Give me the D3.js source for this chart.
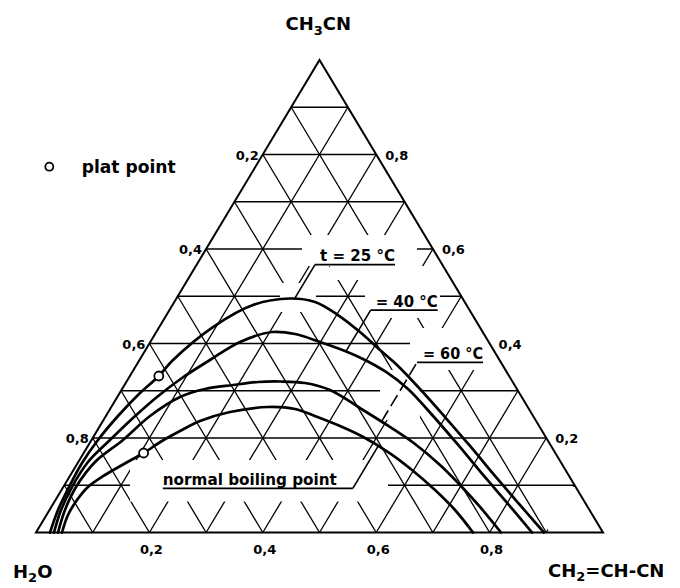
<!DOCTYPE html>
<html>
<head>
<meta charset="utf-8">
<script src="https://cdn.jsdelivr.net/npm/d3@7"></script>
<style>
  html, body { margin: 0; padding: 0; background: #fff; }
  svg { display: block; }
  text { font-family: "DejaVu Sans", sans-serif; font-weight: bold; fill: #000; }
</style>
</head>
<body>
<svg id="chart" width="680" height="588"></svg>
<script>
// Ternary composition: a = CH3CN mole fraction (top corner),
// b = CH2=CH-CN mole fraction (right corner), H2O = 1 - a - b (left corner).

// grid levels and tick labels
const gridLevels = [0.1, 0.2, 0.3, 0.4, 0.5, 0.6, 0.7, 0.8, 0.9];
const tickValues = [0.2, 0.4, 0.6, 0.8];
const tickLabels = ["0,2", "0,4", "0,6", "0,8"];

// binodal curves, points as [b, a]
const curve25 = [[0.0247,0],[0.0150,0.0476],[0.0100,0.0963],[0.0076,0.1471],[0.0114,0.1958],
  [0.0213,0.2466],[0.0344,0.2910],[0.0510,0.3312],[0.0591,0.3651],[0.0947,0.4349],[0.1419,0.4815],
  [0.2004,0.4952],[0.2482,0.4878],[0.3025,0.4603],[0.3593,0.4243],[0.4136,0.3862],[0.4594,0.3545],
  [0.5254,0.3037],[0.5991,0.2444],[0.6739,0.1831],[0.7497,0.1196],[0.8245,0.0582],[0.8959,0]];
const curve40 = [[0.0317,0],[0.0203,0.0476],[0.0153,0.0963],[0.0171,0.1492],[0.0326,0.1958],
  [0.0499,0.2423],[0.0700,0.2868],[0.0940,0.3270],[0.1243,0.3651],[0.1582,0.4032],[0.2041,0.4243],
  [0.2468,0.4201],[0.2993,0.4032],[0.3529,0.3841],[0.3977,0.3651],[0.4475,0.3397],[0.5043,0.3037],
  [0.5797,0.2444],[0.6545,0.1831],[0.7303,0.1196],[0.8051,0.0582],[0.8748,0]];
const curve60 = [[0.0388,0],[0.0273,0.0476],[0.0224,0.0963],[0.0295,0.1492],[0.0555,0.1958],
  [0.0778,0.2466],[0.1106,0.2868],[0.1463,0.3037],[0.1913,0.3122],[0.2323,0.3185],[0.2705,0.3196],
  [0.3162,0.3164],[0.3677,0.3016],[0.4471,0.2593],[0.5127,0.2233],[0.5748,0.1873],[0.6411,0.1429],
  [0.6976,0.1005],[0.7561,0.0540],[0.8201,0]];
const curveBoil = [[0.0459,0],[0.0379,0.0370],[0.0379,0.0688],[0.0435,0.0963],[0.0608,0.1217],
  [0.0827,0.1450],[0.1056,0.1683],[0.1254,0.1937],[0.1466,0.2148],[0.1712,0.2360],[0.2147,0.2550],
  [0.2764,0.2656],[0.3261,0.2614],[0.3726,0.2451],[0.4235,0.2254],[0.4762,0.2021],[0.5405,0.1676],
  [0.5970,0.1323],[0.6588,0.0899],[0.7152,0.0476],[0.7707,0]];
const curves = [curve25, curve40, curve60, curveBoil];

// plat points [b, a]
const platPoints = [[0.0510, 0.3312], [0.1056, 0.1683]];

// curve captions: the leader leaves the curve at constant b and stops at level a1
const captions = [
  { text: "t = 25 °C", curve: 0, b: 0.2086, a1: 0.567, side: 1, line: 80, width: 75, dashed: false },
  { text: "= 40 °C", curve: 1, b: 0.355, a1: 0.4705, side: 1, line: 67, width: 62, dashed: false },
  { text: "= 60 °C", curve: 2, b: 0.492, a1: 0.36, side: 1, line: 66, width: 60, dashed: true },
  { text: "normal boiling point", curve: 3, b: 0.512, a1: 0.0935, side: -1, line: 190, width: 174, dashed: false }
];

// blank areas in the grid around the captions, as [u0, u1, a0, a1] with u = b + a/2
const gridGaps = [
  [0.4691, 0.6720, 0.5640, 0.6296],
  [0.5185, 0.7390, 0.5344, 0.5640],
  [0.4303, 0.4938, 0.4667, 0.5280],
  [0.5802, 0.7125, 0.4540, 0.5344],
  [0.6596, 0.8042, 0.3439, 0.4328],
  [0.6067, 0.6772, 0.2381, 0.3439],
  [0.1658, 0.6208, 0.0656, 0.1534],
  [0.9030, 0.9524, 0.0053, 0.0963]
];

const W = 680, H = 588;
const svg = d3.select("#chart");
svg.append("rect").attr("width", W).attr("height", H).attr("fill", "#fff");

const x = d3.scaleLinear().domain([0, 1]).range([36, 603]);
const y = d3.scaleLinear().domain([0, 1]).range([532.5, 60]);
const P = (b, a) => [x(b + a / 2), y(a)];

// level a at which a curve reaches a given b (first crossing along the curve)
function curveLevelAt(pts, b) {
  for (let i = 1; i < pts.length; i++) {
    const [b0, a0] = pts[i - 1], [b1, a1] = pts[i];
    if ((b0 - b) * (b1 - b) <= 0 && b0 !== b1) {
      return a0 + (b - b0) / (b1 - b0) * (a1 - a0);
    }
  }
  return 0;
}

// mask for grid gaps
const defs = svg.append("defs");
const mask = defs.append("mask").attr("id", "gridMask")
  .attr("maskUnits", "userSpaceOnUse").attr("x", 0).attr("y", 0).attr("width", W).attr("height", H);
mask.append("rect").attr("width", W).attr("height", H).attr("fill", "#fff");
mask.selectAll("rect.gap").data(gridGaps).join("rect").attr("class", "gap")
  .attr("x", d => x(d[0])).attr("y", d => y(d[3]))
  .attr("width", d => x(d[1]) - x(d[0])).attr("height", d => y(d[2]) - y(d[3]))
  .attr("fill", "#000");

// grid lines
const segs = [];
gridLevels.forEach(k => {
  segs.push([P(0, k), P(1 - k, k)]);      // CH3CN constant
  segs.push([P(k, 0), P(k, 1 - k)]);      // CH2=CH-CN constant
  segs.push([P(1 - k, 0), P(0, 1 - k)]);  // H2O constant
});
svg.append("g").attr("mask", "url(#gridMask)")
  .selectAll("line").data(segs).join("line")
  .attr("x1", d => d[0][0]).attr("y1", d => d[0][1])
  .attr("x2", d => d[1][0]).attr("y2", d => d[1][1])
  .attr("stroke", "#000").attr("stroke-width", 1.3);

// triangle frame
svg.append("path")
  .attr("d", d3.line()([P(0, 0), P(1, 0), P(0, 1)]) + "Z")
  .attr("fill", "none").attr("stroke", "#000").attr("stroke-width", 2).attr("stroke-linejoin", "miter");

// binodal curves
const curveLine = d3.line().curve(d3.curveCatmullRom.alpha(0.5));
svg.append("g").selectAll("path").data(curves).join("path")
  .attr("d", d => curveLine(d.map(p => P(p[0], p[1]))))
  .attr("fill", "none").attr("stroke", "#000").attr("stroke-width", 2.7).attr("stroke-linecap", "round");

// plat points
svg.append("g").selectAll("circle").data(platPoints).join("circle")
  .attr("cx", d => P(d[0], d[1])[0]).attr("cy", d => P(d[0], d[1])[1]).attr("r", 4.5)
  .attr("fill", "#fff").attr("stroke", "#000").attr("stroke-width", 1.8);

// captions with leader lines
const cap = svg.append("g");
captions.forEach(c => {
  const a0 = curveLevelAt(curves[c.curve], c.b);
  const p0 = P(c.b, a0), p1 = P(c.b, c.a1);
  const p2 = [p1[0] + c.side * c.line, p1[1]];
  cap.append("path").attr("d", d3.line()([p0, p1]))
    .attr("fill", "none").attr("stroke", "#000").attr("stroke-width", 1.6)
    .attr("stroke-dasharray", c.dashed ? "13,5" : null);
  cap.append("path").attr("d", d3.line()([p1, p2]))
    .attr("fill", "none").attr("stroke", "#000").attr("stroke-width", 1.8);
  const tx = c.side > 0 ? p2[0] - c.width : p2[0];
  cap.append("text").attr("x", tx).attr("y", p1[1] - 3.5)
    .attr("font-size", 16).attr("textLength", c.width).attr("lengthAdjust", "spacingAndGlyphs")
    .text(c.text);
});

// tick labels
const ticks = svg.append("g").attr("font-size", 13);
tickValues.forEach((v, i) => {
  const pb = P(v, 0);
  ticks.append("text").attr("x", pb[0] + 2).attr("y", pb[1] + 21).attr("text-anchor", "middle").text(tickLabels[i]);
  const pl = P(0, 1 - v);   // H2O fraction on the left side
  ticks.append("text").attr("x", pl[0] - 4).attr("y", pl[1] + 5).attr("text-anchor", "end").text(tickLabels[i]);
  const pr = P(1 - v, v);   // CH3CN fraction on the right side
  ticks.append("text").attr("x", pr[0] + 9).attr("y", pr[1] + 5).attr("text-anchor", "start").text(tickLabels[i]);
});

// corner labels
const apex = P(0, 1);
const t1 = svg.append("text").attr("x", apex[0] - 34).attr("y", 29.5).attr("font-size", 18);
t1.append("tspan").text("CH");
t1.append("tspan").attr("font-size", 13).attr("dy", 5).text("3");
t1.append("tspan").attr("dy", -5).text("CN");

const t2 = svg.append("text").attr("x", 13).attr("y", 578).attr("font-size", 18);
t2.append("tspan").text("H");
t2.append("tspan").attr("font-size", 13).attr("dy", 4).text("2");
t2.append("tspan").attr("dy", -4).text("O");

const t3 = svg.append("text").attr("x", 548).attr("y", 577).attr("font-size", 18);
t3.append("tspan").text("CH");
t3.append("tspan").attr("font-size", 13).attr("dy", 4).text("2");
t3.append("tspan").attr("dy", -4).text("=CH-CN");

// legend
svg.append("circle").attr("cx", 49.3).attr("cy", 166.7).attr("r", 4)
  .attr("fill", "#fff").attr("stroke", "#000").attr("stroke-width", 1.8);
svg.append("text").attr("x", 81.7).attr("y", 173).attr("font-size", 17)
  .attr("textLength", 94).attr("lengthAdjust", "spacingAndGlyphs").text("plat point");
</script>
</body>
</html>
